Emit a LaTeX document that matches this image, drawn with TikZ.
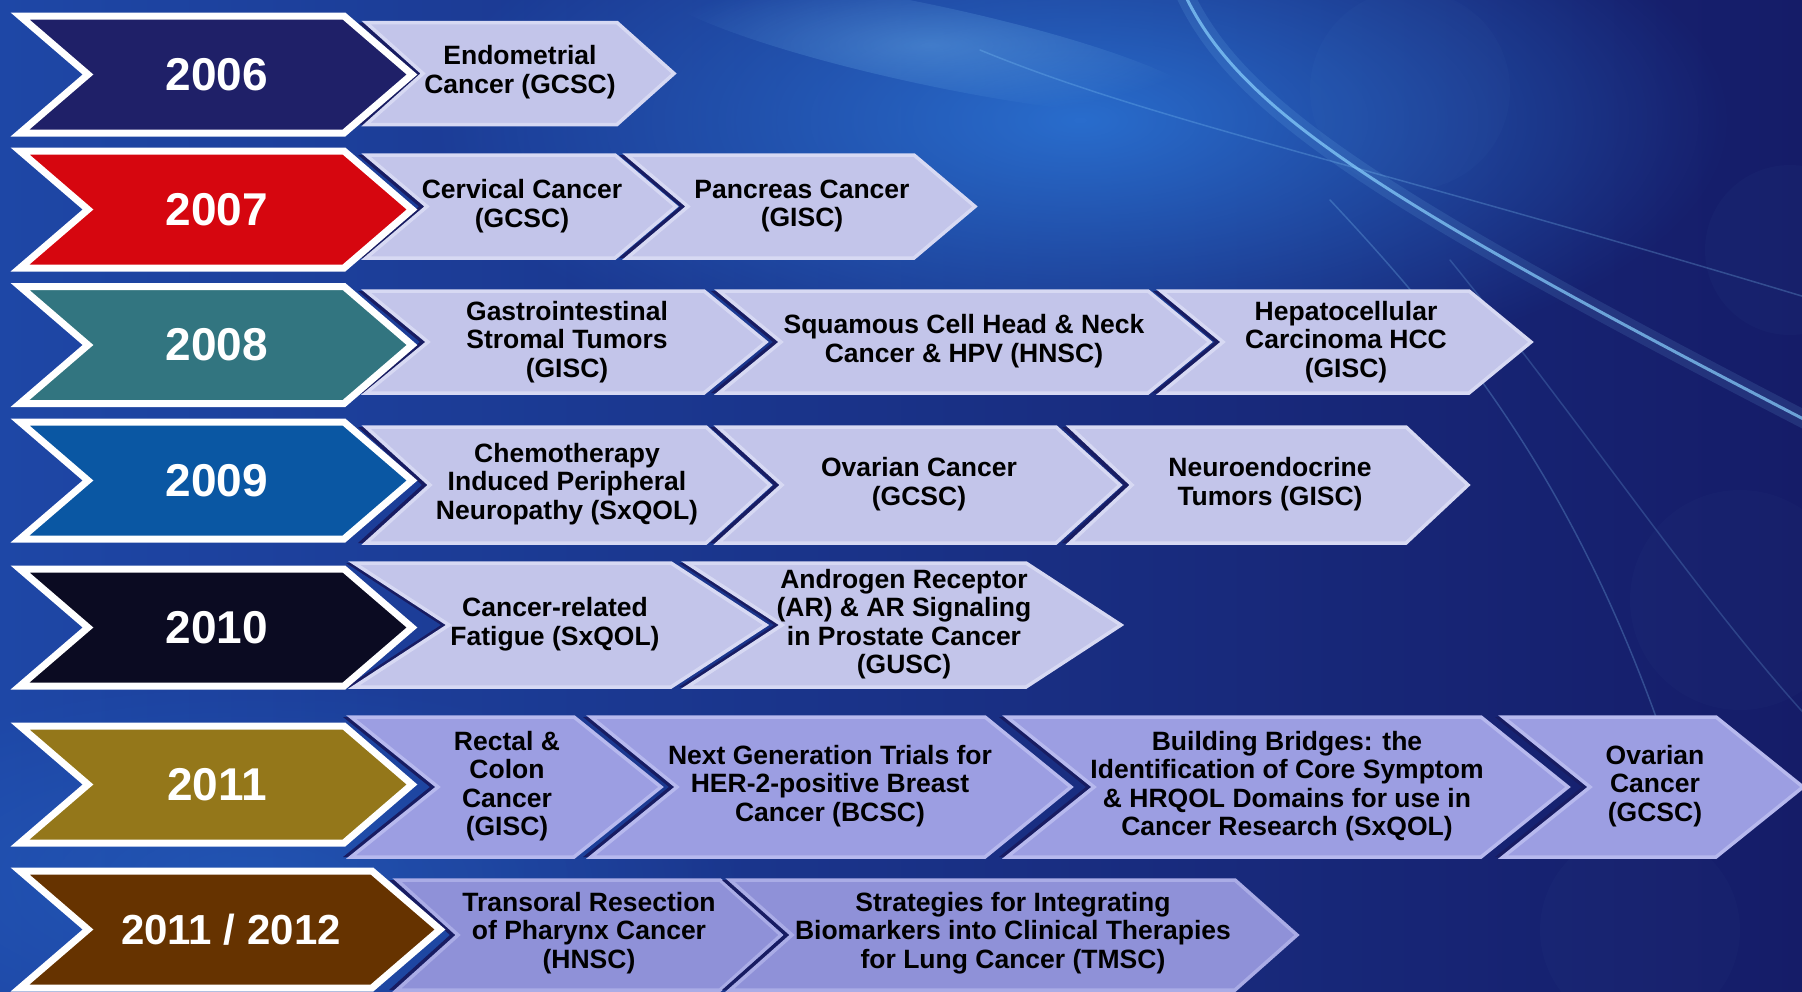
\documentclass[tikz,border=0pt]{standalone}
\usepackage{fontspec}
\setmainfont{Liberation Sans}
\usepackage{xcolor}
\usetikzlibrary{fadings}

\definecolor{bgnavy}{HTML}{151C68}
\definecolor{bgblue}{HTML}{1E47A6}
\definecolor{bgmid}{HTML}{1A3391}
\definecolor{glowblue}{HTML}{2C78DA}
\definecolor{streakcyan}{HTML}{8AD2FF}
\definecolor{chevshade}{HTML}{181C62}
\definecolor{yrA}{HTML}{1F2068}
\definecolor{yrB}{HTML}{D6060F}
\definecolor{yrC}{HTML}{327580}
\definecolor{yrD}{HTML}{0A57A3}
\definecolor{yrE}{HTML}{0B0B22}
\definecolor{yrF}{HTML}{94771A}
\definecolor{yrG}{HTML}{663300}
\definecolor{chevfill}{HTML}{C3C5EA}
\definecolor{chevedge}{HTML}{D7D9F3}
\definecolor{chevfillB}{HTML}{9C9EE2}
\definecolor{chevedgeB}{HTML}{B7B9EE}
\definecolor{chevfillC}{HTML}{8F91D8}
\definecolor{chevedgeC}{HTML}{AAACE6}

\tikzfading[name=soft glow, inner color=transparent!0, outer color=transparent!100]

% left x, tip x, middle y, half height, pointer depth
\newcommand{\chevpath}[5]{(#1,#3-#4) -- (#2-#5,#3-#4) -- (#2,#3) -- (#2-#5,#3+#4) -- (#1,#3+#4) -- (#1+#5,#3) -- cycle}

\tikzset{
  yearbox/.style={draw=white, line width=7pt, line join=miter},
  yeartext/.style={text=white, inner sep=0pt,
                   font=\fontsize{46}{50}\selectfont\bfseries},
  chevbase/.style={line width=3.5pt, line join=miter,
                   preaction={fill=chevshade, transform canvas={xshift=-8pt}}},
  chev/.style={chevbase, fill=chevfill, draw=chevedge},
  chevdark/.style={chevbase, fill=chevfillB, draw=chevedgeB},
  chevlow/.style={chevbase, fill=chevfillC, draw=chevedgeC},
  item/.style={align=center, inner sep=0pt,
               font=\fontsize{26.5}{28.5}\selectfont\bfseries},
  streak/.style={draw=streakcyan, line cap=round}
}

\begin{document}
\begin{tikzpicture}[x=1pt, y=-1pt]
  \useasboundingbox (0,0) rectangle (1802,991);

  % backdrop
  \shade[left color=bgblue, middle color=bgmid, right color=bgnavy] (0,0) rectangle (1802,991);
  \fill[glowblue, path fading=soft glow, opacity=.85] (1080,120) ellipse (650 and 270);
  \fill[glowblue, path fading=soft glow, opacity=.35] (250,880) ellipse (500 and 200);
  \fill[streakcyan, path fading=soft glow, opacity=.3, rotate around={-12:(930,45)}] (930,45) ellipse (280 and 40);
  \fill[streakcyan, opacity=.025] (1410,90) circle (100);
  \fill[streakcyan, opacity=.025] (1790,250) circle (85);
  \fill[streakcyan, opacity=.02] (1740,600) circle (110);
  \fill[streakcyan, opacity=.02] (1640,930) circle (100);
  \draw[streak, line width=18pt, opacity=.12] (1185,-5) .. controls (1240,110) and (1380,200) .. (1815,425);
  \draw[streak, line width=3pt, opacity=.7] (1185,-5) .. controls (1240,110) and (1380,200) .. (1815,425);
  \draw[streak, line width=1.5pt, opacity=.25] (980,50) .. controls (1150,120) and (1350,160) .. (1815,300);
  \draw[streak, line width=1.5pt, opacity=.25] (1330,200) .. controls (1480,360) and (1600,520) .. (1690,820);
  \draw[streak, line width=1.5pt, opacity=.2] (1450,260) .. controls (1580,420) and (1700,600) .. (1810,720);

  % 2006
  \draw[chev] \chevpath{366}{674}{73.5}{51}{57};
  \node[item] (endo) at (520,72) {Endometrial\\Cancer (GCSC)};
  \draw[yearbox, fill=yrA] \chevpath{20}{412}{74.5}{58.5}{68};
  \node[yeartext] (y2006) at (217,74.5) {2006};

  % 2007
  \draw[chev] \chevpath{366}{676}{206.5}{51.5}{61};
  \node[item] (cerv) at (522,206) {Cervical Cancer\\(GCSC)};
  \draw[chev] \chevpath{627}{975}{206.5}{51.5}{61};
  \node[item] (panc) at (802,206) {Pancreas Cancer\\(GISC)};
  \draw[yearbox, fill=yrB] \chevpath{20}{412}{209.5}{58.5}{68};
  \node[yeartext] (y2007) at (217,209.5) {2007};

  % 2008
  \draw[chev] \chevpath{366}{766}{342}{51}{62};
  \node[item] (gist) at (567,342) {Gastrointestinal\\Stromal Tumors\\(GISC)};
  \draw[chev] \chevpath{719}{1210}{342}{51}{62};
  \node[item] (squa) at (964,341) {Squamous Cell Head \& Neck\\Cancer \& HPV (HNSC)};
  \draw[chev] \chevpath{1161}{1531}{342}{51}{62};
  \node[item] (hepa) at (1346,342) {Hepatocellular\\Carcinoma HCC\\(GISC)};
  \draw[yearbox, fill=yrC] \chevpath{20}{412}{345}{58.5}{68};
  \node[yeartext] (y2008) at (217,345) {2008};

  % 2009
  \draw[chev] \chevpath{366}{770}{485}{58}{64};
  \node[item] (cipn) at (567,484) {Chemotherapy\\Induced Peripheral\\Neuropathy (SxQOL)};
  \draw[chev] \chevpath{718}{1120}{485}{58}{64};
  \node[item] (ovarA) at (919,484) {Ovarian Cancer\\(GCSC)};
  \draw[chev] \chevpath{1070}{1468}{485}{58}{62};
  \node[item] (neur) at (1270,484) {Neuroendocrine\\Tumors (GISC)};
  \draw[yearbox, fill=yrD] \chevpath{20}{412}{480.5}{58.5}{68};
  \node[yeartext] (y2009) at (217,480.5) {2009};

  % 2010
  \draw[chev] \chevpath{354}{766}{625}{62}{95};
  \node[item] (crf) at (555,624) {Cancer-related\\Fatigue (SxQOL)};
  \draw[chev] \chevpath{687}{1121}{625}{62}{95};
  \node[item] (arsig) at (904,624) {Androgen Receptor\\(AR) \& AR Signaling\\in Prostate Cancer\\(GUSC)};
  \draw[yearbox, fill=yrE] \chevpath{20}{412}{627.5}{58.5}{68};
  \node[yeartext] (y2010) at (217,627.5) {2010};

  % 2011
  \draw[chevdark] \chevpath{351}{661}{787}{70}{87};
  \node[item] (rect) at (507,786) {Rectal \&\\Colon\\Cancer\\(GISC)};
  \draw[chevdark] \chevpath{591}{1071}{787}{70}{86};
  \node[item] (hertwo) at (830,786) {Next Generation Trials for\\HER-2-positive Breast\\Cancer (BCSC)};
  \draw[chevdark] \chevpath{1007}{1568}{787}{70}{87};
  \node[item] (bridge) at (1287,786) {Building Bridges: the\\Identification of Core Symptom\\\& HRQOL Domains for use in\\Cancer Research (SxQOL)};
  \draw[chevdark] \chevpath{1503}{1803}{787}{70}{87};
  \node[item] (ovarB) at (1655,786) {Ovarian\\Cancer\\(GCSC)};
  \draw[yearbox, fill=yrF] \chevpath{20}{412}{784.5}{58.5}{68};
  \node[yeartext] (y2011) at (217,784.5) {2011};

  % 2011 / 2012
  \draw[chevlow] \chevpath{397}{781}{935}{55}{61};
  \node[item] (tors) at (589,933) {Transoral Resection\\of Pharynx Cancer\\(HNSC)};
  \draw[chevlow] \chevpath{730}{1297}{935}{55}{62};
  \node[item] (biom) at (1013,933) {Strategies for Integrating\\Biomarkers into Clinical Therapies\\for Lung Cancer (TMSC)};
  \draw[yearbox, fill=yrG] \chevpath{20}{440}{929.5}{58.5}{68};
  \node[yeartext, font=\fontsize{42}{46}\selectfont\bfseries] (y2012) at (231,929.5) {2011 / 2012};
\end{tikzpicture}
\end{document}
